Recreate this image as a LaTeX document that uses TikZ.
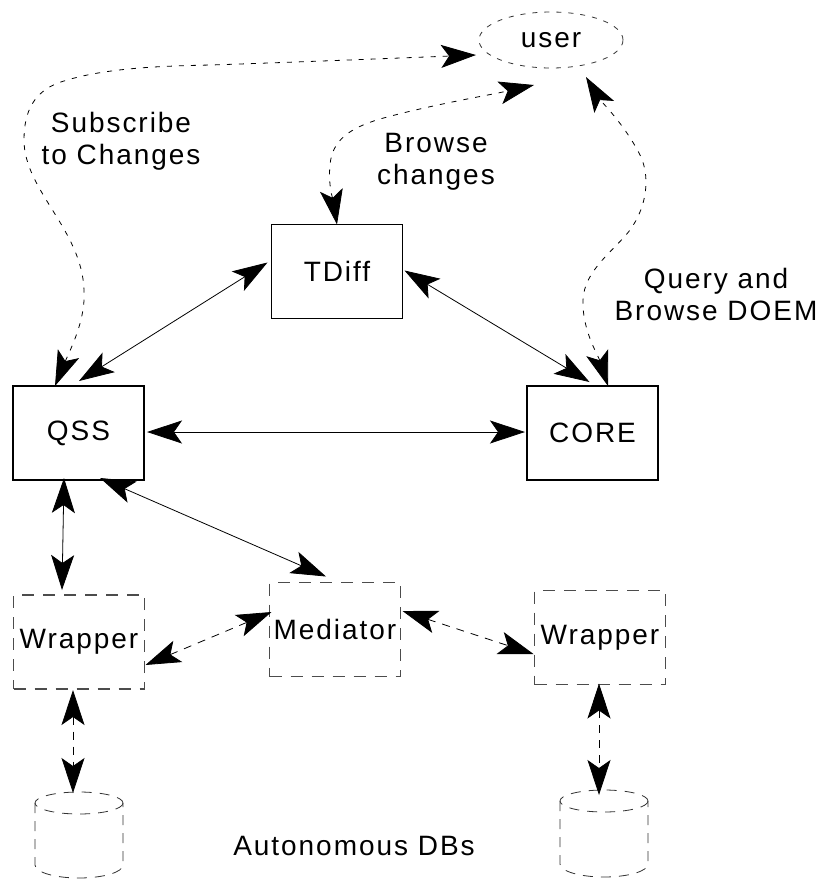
\documentclass[tikz,border=0pt]{standalone}
\usepackage{fontspec}
\setmainfont{Liberation Sans}[LetterSpace=7]
\usetikzlibrary{arrows.meta,calc,shapes.geometric}
\begin{document}
\begin{tikzpicture}[x=1pt,y=-1pt,
  font=\fontsize{28}{32}\selectfont,
  every node/.style={inner sep=0pt, outer sep=0pt},
  box/.style={draw=black, line width=1.1pt, minimum width=131pt, minimum height=94pt},
  softbox/.style={draw=black!70, line width=1.1pt, dash pattern=on 12pt off 9pt,
                  minimum width=131pt, minimum height=94pt},
  link/.style={line width=0.8pt, {Stealth[length=35pt,width=23pt,inset=8pt]}-{Stealth[length=35pt,width=23pt,inset=8pt]}},
  dlink/.style={link, dash pattern=on 8pt off 7pt},
  ulink/.style={link, dash pattern=on 5pt off 7pt},
  drum/.style={draw=black!80, line width=0.8pt, dash pattern=on 10pt off 8pt},
  lbl/.style={align=center}
]
\useasboundingbox (0,0) rectangle (821,879);

% main components
\node (user)  [draw=black!80, line width=0.8pt, dash pattern=on 5pt off 7pt,
               ellipse, minimum width=144pt, minimum height=56pt] at (551,40) {user};
\node (tdiff) [box] at (337,271.5) {TDiff};
\node (qss)   [box] at (78.5,433) {QSS};
\node (core)  [box] at (592.5,433) {CORE};
\node (wrapL) [softbox] at (79,642) {Wrapper};
\node (med)   [softbox] at (335,629.5) {Mediator};
\node (wrapR) [softbox] at (600,637.5) {Wrapper};

% databases (drawn as dashed drums)
\node (dbL) [minimum width=88pt, minimum height=86pt] at (79,835) {};
\node (dbR) [minimum width=88pt, minimum height=86pt] at (604,833) {};
\draw[drum] (79,803) ellipse [x radius=44, y radius=11];
\draw[drum] (35,803) -- (35,865) arc[start angle=180, end angle=0, x radius=44, y radius=13] -- (123,803);
\draw[drum] (604,801) ellipse [x radius=44, y radius=11];
\draw[drum] (560,801) -- (560,864) arc[start angle=180, end angle=0, x radius=44, y radius=13] -- (648,801);

% labels
\node (lsub)   [lbl] at (121,141) {Subscribe\\to Changes};
\node (lbrw)   [lbl] at (436,162) {Browse\\changes};
\node (lquery) [lbl] at (716,294) {Query and\\Browse DOEM};
\node (ldbs)   at (354,846) {Autonomous DBs};

% user interactions
\draw[ulink] ($(qss.north)+(-23.5,0)$)
  .. controls (70,350) and (86,320) .. (84,290)
  .. controls (82,230) and (24,190) .. (24,140)
  .. controls (24,110) and (35,92) .. (58,83)
  .. controls (100,68) and (160,66) .. (211,65)
  .. controls (300,62) and (400,58) .. ($(user.center)+(-75,15)$);
\draw[ulink] (tdiff.north)
  .. controls (333,200) and (328,185) .. (330,165)
  .. controls (332,140) and (350,128) .. (380,119)
  .. controls (430,105) and (490,95) .. ($(user.center)+(-17,45)$);
\draw[ulink] ($(core.north)+(15.5,0)$)
  .. controls (598,355) and (582,330) .. (583,300)
  .. controls (584,270) and (615,250) .. (630,230)
  .. controls (648,205) and (650,175) .. (640,155)
  .. controls (625,125) and (600,100) .. ($(user.center)+(35,37)$);

% solid links
\draw[link] ($(qss.north)+(0.5,-5)$) -- ($(tdiff.west)+(-4,-9)$);
\draw[link] ($(tdiff.east)+(2,-1)$) -- ($(core.north)+(-3,-4)$);
\draw[link] ($(qss.east)+(3,-1)$) -- ($(core.west)+(-2,-1)$);
\draw[link] ($(qss.south)+(-14.5,-2)$) -- ($(wrapL.north)+(-17,-5)$);
\draw[link] ($(qss.south east)+(-44,-2)$) -- ($(med.north)+(-9,-6)$);

% dashed links
\draw[dlink] ($(wrapL.east)+(1,23)$) -- ($(med.west)+(2,-17.5)$);
\draw[dlink] ($(med.east)+(2,-18.5)$) -- ($(wrapR.west)+(-1,16.5)$);
\draw[dlink] ($(wrapL.south)+(-6,1)$) -- ($(dbL.north)+(-6,1)$);
\draw[dlink] ($(wrapR.south)+(-1,-1)$) -- ($(dbR.north)+(-5,5)$);
\end{tikzpicture}
\end{document}
